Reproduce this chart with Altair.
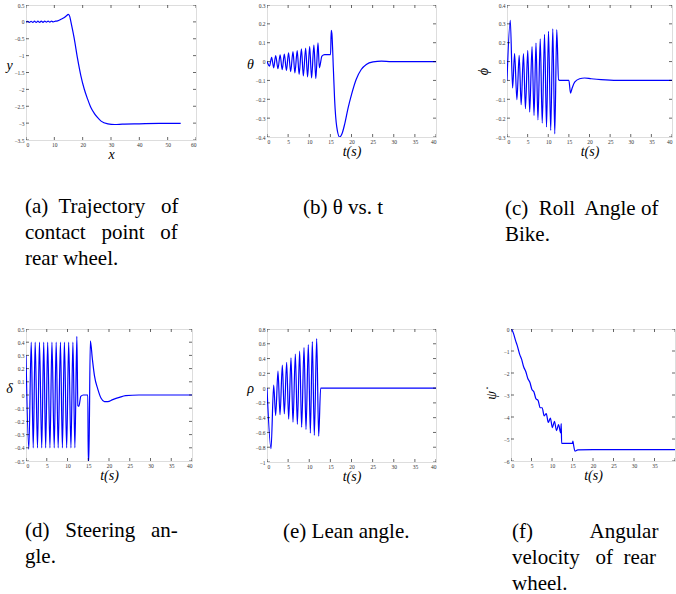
import altair as alt
import pandas as pd

SERIF = "Liberation Serif"
BLUE = "#0000ff"
NB = "\u00a0"

# ---------------- data ----------------
# (a) trajectory of rear-wheel contact point
a_x = [0, 0.6, 1.2, 1.8, 2.4, 3.0, 3.6, 4.2, 4.8, 5.4, 6.0, 6.6, 7.2, 7.8, 8.4, 9.0, 9.6,
       10.4, 11.2, 12.2, 13.4, 14.3, 14.9, 15.4, 15.8, 16.4, 17.0, 18.2, 19.35, 20.55,
       21.75, 22.9, 24.1, 25.3, 26.5, 28.9, 31.3, 34.0, 40.0, 47.0, 54.6]
a_y = [0, 0.015, -0.015, 0.018, -0.015, 0.02, -0.015, 0.02, -0.015, 0.022, -0.012, 0.022,
       -0.01, 0.025, -0.008, 0.025, 0.0, 0.02, 0.03, 0.07, 0.12, 0.18, 0.22, 0.17, 0.02,
       -0.22, -0.48, -1.09, -1.59, -1.99, -2.29, -2.54, -2.71, -2.84, -2.94, -3.02, -3.04,
       -3.03, -3.02, -3.01, -3.01]

# (b) theta vs t
b_t = [0, 0.6, 1.1, 1.58, 2.05, 2.6, 3.1, 3.6, 4.1, 4.6, 5.1, 5.6, 6.15, 6.6, 7.15, 7.6,
       8.15, 8.6, 9.15, 9.6, 10.1, 10.55, 11.1, 11.55, 12.07, 12.39, 13.0, 13.65, 15.05,
       15.2, 15.35, 15.7, 16.0, 16.5, 17.2, 17.75, 18.4, 19.2, 20.0, 21.1, 22.3, 23.5,
       25.1, 27.1, 29.4, 40]
b_y = [0, -0.024, 0.023, -0.033, 0.032, -0.038, 0.036, -0.043, 0.04, -0.047, 0.046,
       -0.053, 0.053, -0.06, 0.058, -0.068, 0.067, -0.076, 0.072, -0.081, 0.08, -0.087,
       0.088, -0.09, 0.099, -0.033, 0.029, 0.037, 0.037, 0.165, 0.15, -0.033, -0.2,
       -0.345, -0.4, -0.383, -0.33, -0.245, -0.175, -0.095, -0.042, -0.015, -0.002, 0.002,
       0.0, 0.0]

# (c) roll angle phi
c_t = [0, 0.8, 1.36, 1.84, 2.4, 2.95, 3.43, 3.99, 4.47, 5.03, 5.5, 6.07, 6.55, 7.03, 7.5,
       8.06, 8.54, 9.1, 9.58, 10.06, 10.6, 11.1, 11.58, 12.06, 12.5, 13.0, 15.0, 15.4,
       15.8, 16.4, 17.6, 18.8, 20.4, 22.8, 26.7, 40]
c_y = [0, 0.319, -0.04, 0.142, -0.102, 0.133, -0.129, 0.142, -0.15, 0.159, -0.168, 0.18,
       -0.186, 0.198, -0.209, 0.221, -0.226, 0.244, -0.247, 0.26, -0.265, 0.274, -0.283,
       0.269, 0.004, 0.0, 0.0, -0.067, -0.04, -0.009, 0.009, 0.013, 0.009, 0.004, 0.0, 0.0]

# (d) steering angle delta
d_t = [0, 0.68, 1.26, 1.74, 2.21, 2.77, 3.24, 3.79, 4.27, 4.74, 5.22, 5.77, 6.25, 6.8,
       7.27, 7.75, 8.3, 8.77, 9.25, 9.8, 10.28, 10.83, 11.3, 11.78, 12.25, 12.5, 12.75,
       13.2, 13.8, 14.9, 15.0, 15.15, 15.5, 16.0, 16.5, 17.3, 18.1, 18.9, 19.7, 20.9,
       22.5, 24.0, 27.2, 40]
d_y = [0.3, -0.41, 0.4, -0.4, 0.4, -0.4, 0.4, -0.4, 0.4, -0.4, 0.4, -0.4, 0.4, -0.4, 0.4,
       -0.4, 0.4, -0.4, 0.4, -0.4, 0.4, -0.4, 0.4, -0.4, 0.445, -0.08, -0.085, -0.01, 0.0,
       0.0, -0.5, -0.5, 0.41, 0.27, 0.145, 0.045, -0.025, -0.05, -0.05, -0.035, -0.018,
       -0.005, 0.0, 0.0]

# (e) lean angle rho
e_t = [0, 0.95, 1.58, 2.05, 2.6, 3.08, 3.63, 4.1, 4.65, 5.13, 5.68, 6.15, 6.71, 7.18,
       7.73, 8.2, 8.76, 9.23, 9.78, 10.26, 10.73, 11.2, 11.76, 12.23, 12.7, 40]
e_y = [0, -0.82, 0.04, -0.37, 0.23, -0.36, 0.31, -0.35, 0.35, -0.42, 0.41, -0.46, 0.46,
       -0.49, 0.5, -0.53, 0.55, -0.56, 0.59, -0.61, 0.63, -0.64, 0.67, -0.65, 0.0, 0.0]

# (f) angular velocity of rear wheel
f_t = [0.15, 0.6, 1.1, 1.6, 2.1, 2.6, 3.1, 3.6, 4.1, 4.6, 5.1, 5.6, 6.1, 6.6, 7.1, 7.6,
       8.1, 8.6, 9.1, 9.6, 10.1, 10.6, 11.1, 11.6, 12.1, 12.25, 12.35, 14.95, 15.1, 15.2,
       15.6, 16.3, 20, 40]
f_y = [0, -0.2, -0.52, -0.8, -1.14, -1.38, -1.73, -1.93, -2.25, -2.42, -2.75, -2.86,
       -3.18, -3.24, -3.58, -3.58, -3.95, -3.85, -4.25, -4.05, -4.48, -4.2, -4.62, -4.35,
       -4.72, -4.3, -5.2, -5.2, -5.1, -5.2, -5.55, -5.49, -5.48, -5.48]

# axis tick values
t_ticks = [0, 5, 10, 15, 20, 25, 30, 35, 40]
a_xticks = [0, 10, 20, 30, 40, 50, 60]
a_yticks = [0.5, 0, -0.5, -1, -1.5, -2, -2.5, -3, -3.5]
b_yticks = [0.3, 0.2, 0.1, 0, -0.1, -0.2, -0.3, -0.4]
c_yticks = [0.4, 0.3, 0.2, 0.1, 0, -0.1, -0.2, -0.3]
d_yticks = [0.5, 0.4, 0.3, 0.2, 0.1, 0, -0.1, -0.2, -0.3, -0.4, -0.5]
e_yticks = [0.8, 0.6, 0.4, 0.2, 0, -0.2, -0.4, -0.6, -0.8, -1]
f_yticks = [0, -1, -2, -3, -4, -5, -6]

# captions
cap_a = ("(a)" + NB + " Trajectory" + NB + NB + " of\ncontact" + NB + NB + " point"
         + NB + NB + " of\nrear wheel.")
cap_b = "(b) \u03b8 vs. t"
cap_c = "(c)" + NB + " Roll" + NB + " Angle of\nBike."
cap_d = "(d)" + NB + NB + " Steering" + NB + NB + " an-\ngle."
cap_e = "(e) Lean angle."
cap_f = "(f)" + NB * 10 + " Angular\nvelocity" + NB + NB + " of" + NB + " rear\nwheel."


def panel(xv, yv, xdom, ydom, xticks, yticks, w, h, xtitle, ytitle, yangle,
          caption, cap_x, cap_y, xlabel_expr=None, ytitle_pad=5):
    df = pd.DataFrame({"x": xv, "y": yv})
    xscale = alt.Scale(domain=xdom, nice=False, zero=False)
    yscale = alt.Scale(domain=ydom, nice=False, zero=False)
    common = dict(ticks=False, domain=False, grid=False, format="~f",
                  labelFont=SERIF, labelFontSize=5.5, labelColor="#333333",
                  labelPadding=2, titleFont=SERIF, titleFontStyle="italic",
                  titleFontWeight="normal", titleColor="black")
    xkw = dict(common, values=xticks, title=xtitle, titleFontSize=14, titlePadding=0)
    if xlabel_expr:
        xkw["labelExpr"] = xlabel_expr
    xaxis = alt.Axis(**xkw)
    yaxis = alt.Axis(**dict(common, values=yticks, title=ytitle, titleFontSize=14,
                            titleAngle=yangle, titlePadding=ytitle_pad))

    def X(f):
        return alt.X(f + ":Q", scale=xscale, axis=xaxis)

    def Y(f):
        return alt.Y(f + ":Q", scale=yscale, axis=yaxis)

    line = alt.Chart(df).mark_line(color=BLUE, strokeWidth=1.2, clip=True,
                                   interpolate="monotone").encode(x=X("x"), y=Y("y"))
    xt = pd.DataFrame({"x": xticks})
    yt = pd.DataFrame({"y": yticks})
    rule = dict(color="black", strokeWidth=0.6, clip=True)
    tb = alt.Chart(xt).mark_rule(**rule).encode(x=X("x"), y=alt.value(h), y2=alt.value(h - 3))
    tt = alt.Chart(xt).mark_rule(**rule).encode(x=X("x"), y=alt.value(0), y2=alt.value(3))
    tl = alt.Chart(yt).mark_rule(**rule).encode(y=Y("y"), x=alt.value(0), x2=alt.value(3))
    tr = alt.Chart(yt).mark_rule(**rule).encode(y=Y("y"), x=alt.value(w), x2=alt.value(w - 3))
    cap = alt.Chart(pd.DataFrame({"c": [caption]})).mark_text(
        align="left", baseline="alphabetic", font=SERIF, fontSize=21, lineHeight=26,
        lineBreak="\n", color="black").encode(text="c:N", x=alt.value(cap_x), y=alt.value(cap_y))
    return alt.layer(line, tb, tt, tl, tr, cap).properties(width=w, height=h)


pa = panel(a_x, a_y, [0, 60], [-3.5, 0.5], a_xticks, a_yticks, 170, 135, "x", "y", 0,
           cap_a, -1, 208)
pb = panel(b_t, b_y, [0, 40], [-0.4, 0.3], t_ticks, b_yticks, 169, 132, "t(s)", "\u03b8", 0,
           cap_b, 36, 209)
pc = panel(c_t, c_y, [0, 40], [-0.3, 0.4], t_ticks, c_yticks, 165, 132, "t(s)", "\u03d5", 270,
           cap_c, -2, 210)
pd_ = panel(d_t, d_y, [0, 40], [-0.5, 0.5], t_ticks, d_yticks, 166, 132, "t(s)", "\u03b4", 0,
            cap_d, -1, 208)
pe = panel(e_t, e_y, [0, 40], [-1, 0.8], t_ticks, e_yticks, 169, 133, "t(s)", "\u03c1", 0,
           cap_e, 16, 209)
pf = panel(f_t, f_y, [0, 40], [-6, 0], t_ticks, f_yticks, 164, 132, "t(s)", "\u03c8\u0307", 270,
           cap_f, 1, 209, xlabel_expr="datum.value == 40 ? '' : datum.label")

row1 = alt.hconcat(pa, pb, pc, spacing=71, bounds="flush")
row2 = alt.hconcat(pd_, pe, pf, spacing=75, bounds="flush")

chart = alt.vconcat(row1, row2, spacing=324, bounds="flush").properties(
    padding={"left": 5, "top": 2, "right": 0, "bottom": 0}
).configure_view(stroke="black", strokeWidth=1).configure(background="white")

chart.save("out.html", embed_options={"renderer": "svg", "actions": False})
